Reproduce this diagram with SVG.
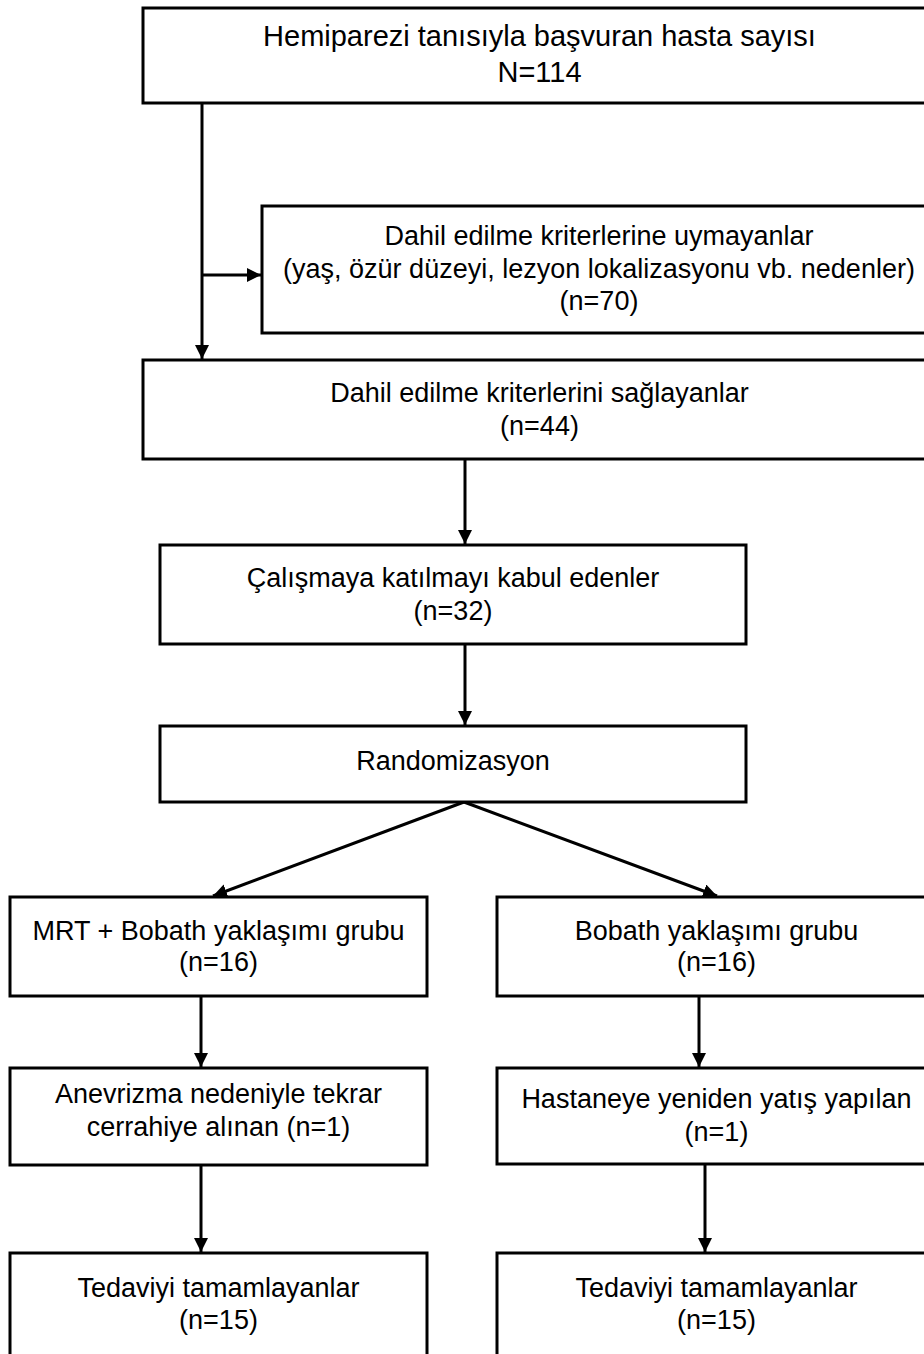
<svg xmlns="http://www.w3.org/2000/svg" width="924" height="1354" viewBox="0 0 924 1354">
<style>
.box{fill:#fff;stroke:#000;stroke-width:3}
.t{font-family:"Liberation Sans",Arial,sans-serif;font-size:27px;fill:#000;text-anchor:middle}
.big{font-size:29px}
.c{stroke:#000;stroke-width:3;fill:none;marker-end:url(#ah)}
</style>
<defs>
<marker id="ah" markerUnits="userSpaceOnUse" markerWidth="15" markerHeight="15" refX="14" refY="7" orient="auto" viewBox="0 0 15 15">
<path d="M0,0 L14,7 L0,14 z" fill="#000"/>
</marker>
</defs>
<rect width="924" height="1354" fill="#fff"/>
<g id="connectors">
<path class="c" d="M202,103 L202,359"/>
<path class="c" d="M202,275 L261,275"/>
<path class="c" d="M465,459 L465,544"/>
<path class="c" d="M465,644 L465,725"/>
<path class="c" d="M464,802 L213,896"/>
<path class="c" d="M464,802 L717,896"/>
<path class="c" d="M201,996 L201,1067"/>
<path class="c" d="M699,996 L699,1067"/>
<path class="c" d="M201,1165 L201,1252"/>
<path class="c" d="M705,1164 L705,1252"/>
</g>
<g id="n1"><rect class="box" x="143" y="8" width="793" height="95"/>
<text class="t big" x="539.5" y="46">Hemiparezi tanısıyla başvuran hasta sayısı</text>
<text class="t big" x="539.5" y="82">N=114</text></g>
<g id="n2"><rect class="box" x="262" y="206" width="674" height="127"/>
<text class="t" x="599" y="245">Dahil edilme kriterlerine uymayanlar</text>
<text class="t" x="599" y="277.5">(yaş, özür düzeyi, lezyon lokalizasyonu vb. nedenler)</text>
<text class="t" x="599" y="310">(n=70)</text></g>
<g id="n3"><rect class="box" x="143" y="360" width="793" height="99"/>
<text class="t" x="539.5" y="402">Dahil edilme kriterlerini sağlayanlar</text>
<text class="t" x="539.5" y="435">(n=44)</text></g>
<g id="n4"><rect class="box" x="160" y="545" width="586" height="99"/>
<text class="t" x="453" y="587">Çalışmaya katılmayı kabul edenler</text>
<text class="t" x="453" y="620">(n=32)</text></g>
<g id="n5"><rect class="box" x="160" y="726" width="586" height="76"/>
<text class="t" x="453" y="770">Randomizasyon</text></g>
<g id="n6"><rect class="box" x="10" y="897" width="417" height="99"/>
<text class="t" x="218.5" y="939.5">MRT + Bobath yaklaşımı grubu</text>
<text class="t" x="218.5" y="970.5">(n=16)</text></g>
<g id="n7"><rect class="box" x="497" y="897" width="439" height="99"/>
<text class="t" x="716.5" y="940">Bobath yaklaşımı grubu</text>
<text class="t" x="716.5" y="971">(n=16)</text></g>
<g id="n8"><rect class="box" x="10" y="1068" width="417" height="97"/>
<text class="t" x="218.5" y="1103">Anevrizma nedeniyle tekrar</text>
<text class="t" x="218.5" y="1136">cerrahiye alınan (n=1)</text></g>
<g id="n9"><rect class="box" x="497" y="1068" width="439" height="96"/>
<text class="t" x="716.5" y="1108">Hastaneye yeniden yatış yapılan</text>
<text class="t" x="716.5" y="1141">(n=1)</text></g>
<g id="n10"><rect class="box" x="10" y="1253" width="417" height="110"/>
<text class="t" x="218.5" y="1297">Tedaviyi tamamlayanlar</text>
<text class="t" x="218.5" y="1329">(n=15)</text></g>
<g id="n11"><rect class="box" x="497" y="1253" width="439" height="110"/>
<text class="t" x="716.5" y="1297">Tedaviyi tamamlayanlar</text>
<text class="t" x="716.5" y="1329">(n=15)</text></g>
</svg>
